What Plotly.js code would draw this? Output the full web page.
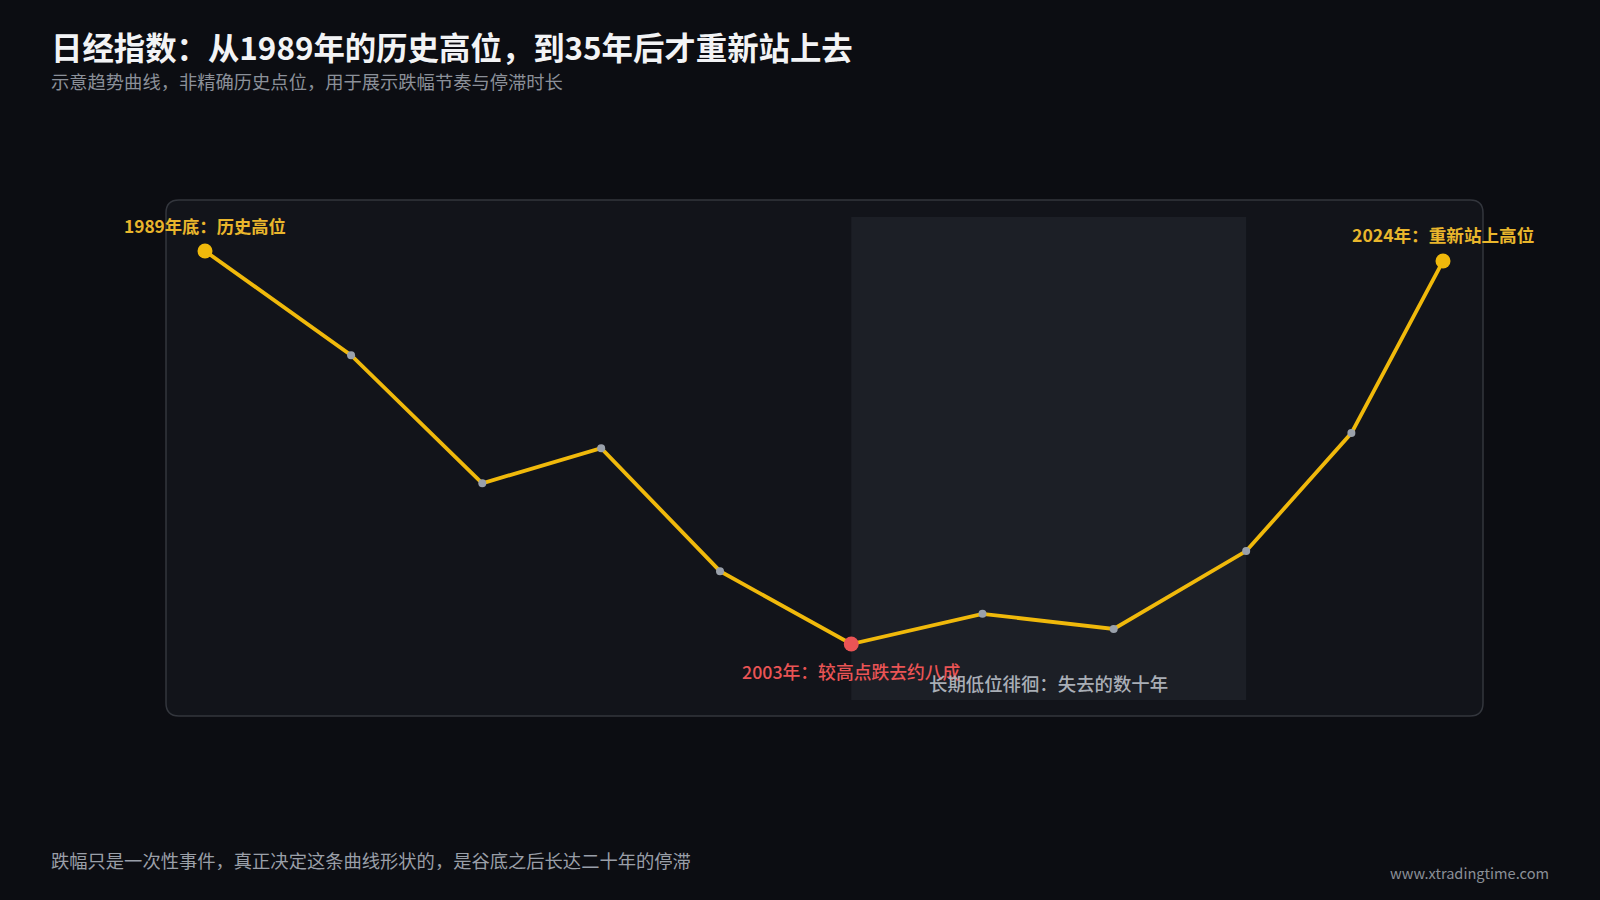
<!DOCTYPE html>
<html>
<head>
<meta charset="utf-8">
<script src="https://cdn.plot.ly/plotly-3.0.1.min.js"></script>
<style>
  html, body { margin: 0; padding: 0; background: #0c0d12; }
  #chart { width: 1600px; height: 900px; }
</style>
</head>
<body>
<div id="chart"></div>
<script>
// ---- data (illustrative trend) ----
const timelinePos = [0, 11.8, 22.4, 32.0, 41.6, 52.2, 62.8, 73.4, 84.1, 92.6, 100];
const indexLevel  = [38900, 30600, 20400, 23200, 13400, 7600, 10000, 8800, 15000, 24400, 38100];
const peakIdx = 0;
const troughIdx = 5;
const stagnationEndIdx = 8;
const recoveryIdx = 10;
const peakLabel = "1989年底：历史高位";
const troughLabel = "2003年：较高点跌去约八成";
const recoveryLabel = "2024年：重新站上高位";
const stagnationLabel = "长期低位徘徊：失去的数十年";
const titleText = "日经指数：从1989年的历史高位，到35年后才重新站上去";
const subtitleText = "示意趋势曲线，非精确历史点位，用于展示跌幅节奏与停滞时长";
const footerText = "跌幅只是一次性事件，真正决定这条曲线形状的，是谷底之后长达二十年的停滞";
const siteText = "www.xtradingtime.com";

// ---- styling ----
const GOLD = "#f0b90b";
const GOLD_TEXT = "#e9b62c";
const RED = "#ea5455";
const GREY_DOT = "#9aa1ab";
const FONT = "'Noto Sans CJK SC', 'Noto Sans', sans-serif";

const W = 1600, H = 900;
const margin = { l: 166, r: 117, t: 200, b: 184 };
const pw = W - margin.l - margin.r, ph = H - margin.t - margin.b;

function roundedRectPath(x0, y0, x1, y1, rpx) {
  const rx = rpx / pw, ry = rpx / ph;
  return `M ${x0 + rx} ${y1} L ${x1 - rx} ${y1} Q ${x1} ${y1} ${x1} ${y1 - ry} ` +
         `L ${x1} ${y0 + ry} Q ${x1} ${y0} ${x1 - rx} ${y0} ` +
         `L ${x0 + rx} ${y0} Q ${x0} ${y0} ${x0} ${y0 + ry} ` +
         `L ${x0} ${y1 - ry} Q ${x0} ${y1} ${x0 + rx} ${y1} Z`;
}

const n = timelinePos.length;
const mColors = [], mSizes = [];
for (let i = 0; i < n; i++) {
  if (i === peakIdx || i === recoveryIdx) { mColors.push(GOLD); mSizes.push(15); }
  else if (i === troughIdx) { mColors.push(RED); mSizes.push(15); }
  else { mColors.push(GREY_DOT); mSizes.push(8); }
}

const traces = [
  {
    x: timelinePos, y: indexLevel, type: "scatter", mode: "lines",
    line: { color: GOLD, width: 3.8 }, hoverinfo: "skip", showlegend: false
  },
  {
    x: timelinePos, y: indexLevel, type: "scatter", mode: "markers",
    marker: { color: mColors, size: mSizes, opacity: 1, line: { width: 0 } },
    hoverinfo: "skip", showlegend: false
  }
];

const layout = {
  width: W, height: H,
  margin: margin,
  paper_bgcolor: "#0c0d12",
  plot_bgcolor: "rgba(0,0,0,0)",
  font: { family: FONT, color: "#cfd3da" },
  showlegend: false,
  xaxis: { range: [-3.15, 103.23], visible: false, fixedrange: true },
  yaxis: { range: [1866, 42962], visible: false, fixedrange: true },
  shapes: [
    {
      type: "path", xref: "paper", yref: "paper", layer: "below",
      path: roundedRectPath(0, 0, 1, 1, 13),
      fillcolor: "#12141a", line: { color: "#33363d", width: 1.5 }
    },
    {
      type: "rect", xref: "x", yref: "paper", layer: "below",
      x0: timelinePos[troughIdx], x1: timelinePos[stagnationEndIdx],
      y0: 0.031, y1: 0.967,
      fillcolor: "#1c1f26", line: { width: 0 }
    }
  ],
  annotations: [
    {
      x: timelinePos[peakIdx], y: indexLevel[peakIdx], xref: "x", yref: "y",
      text: peakLabel, showarrow: false, yanchor: "bottom", yshift: 11,
      font: { family: FONT, size: 17.3, color: GOLD_TEXT, weight: 600 }
    },
    {
      x: timelinePos[recoveryIdx], y: indexLevel[recoveryIdx], xref: "x", yref: "y",
      text: recoveryLabel, showarrow: false, yanchor: "bottom", yshift: 12,
      font: { family: FONT, size: 17.6, color: GOLD_TEXT, weight: 600 }
    },
    {
      x: timelinePos[troughIdx], y: indexLevel[troughIdx], xref: "x", yref: "y",
      text: troughLabel, showarrow: false, yanchor: "top", yshift: -12,
      font: { family: FONT, size: 17.8, color: RED, weight: 500 }
    },
    {
      x: (timelinePos[troughIdx] + timelinePos[stagnationEndIdx]) / 2, y: 0.064,
      xref: "x", yref: "paper",
      text: stagnationLabel, showarrow: false, yanchor: "middle",
      font: { family: FONT, size: 18.4, color: "#a9aeb6", weight: 500 }
    },
    {
      x: 49, y: 47, xref: "paper", yref: "paper", text: titleText,
      showarrow: false, xanchor: "left", yanchor: "middle",
      font: { family: FONT, size: 31.4, color: "#f2f3f5", weight: 700 }
    },
    {
      x: 49, y: 81, xref: "paper", yref: "paper", text: subtitleText,
      showarrow: false, xanchor: "left", yanchor: "middle",
      font: { family: FONT, size: 18.3, color: "#8b9099" }
    },
    {
      x: 49, y: 860, xref: "paper", yref: "paper", text: footerText,
      showarrow: false, xanchor: "left", yanchor: "middle",
      font: { family: FONT, size: 18.3, color: "#9a9fa8" }
    },
    {
      x: 1551, y: 872, xref: "paper", yref: "paper", text: siteText,
      showarrow: false, xanchor: "right", yanchor: "middle",
      font: { family: FONT, size: 14.6, color: "#8a8f97" }
    }
  ]
};

// convert pixel-placed page annotations (title, subtitle, footer, site) to paper coords
layout.annotations.forEach(a => {
  if (a.xref === "paper" && a.x > 1.5) {
    a.x = (a.x - margin.l) / pw;
    a.y = 1 - (a.y - margin.t) / ph;
  }
});

Plotly.newPlot("chart", traces, layout, { displayModeBar: false, staticPlot: true });
</script>
</body>
</html>
